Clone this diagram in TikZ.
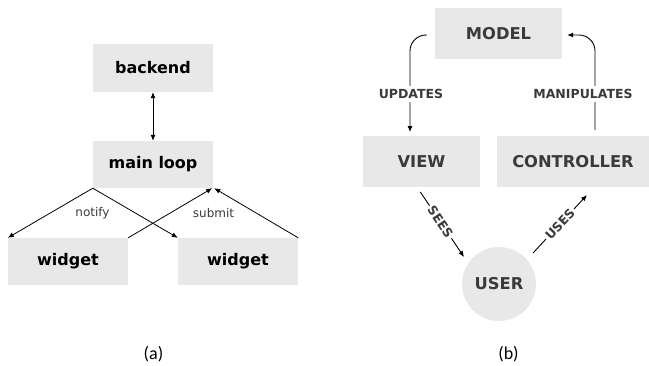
\documentclass[tikz,border=0pt]{standalone}
\usepackage{fontspec}
\setmainfont{DejaVu Sans}
\newfontfamily\capfont{Carlito}
\usetikzlibrary{arrows.meta,calc}
\definecolor{boxgray}{HTML}{E8E8E8}
\definecolor{txtgray}{HTML}{3A3A3A}
\tikzset{
  lbox/.style={fill=boxgray, inner sep=0pt, font=\fontsize{16}{18}\selectfont\bfseries, text=black},
  rbox/.style={fill=boxgray, inner sep=0pt, font=\fontsize{16.3}{18}\selectfont\bfseries, text=txtgray},
  larrow/.style={-{Latex[length=6pt,width=5pt]}, line width=0.8pt},
  rarrow/.style={-{Latex[length=6pt,width=5pt]}, line width=0.9pt},
  elabel/.style={font=\fontsize{12}{14}\selectfont, text=txtgray},
  rlabel/.style={font=\fontsize{12.5}{14}\selectfont\bfseries, text=txtgray, fill=white, inner sep=3pt},
  caption/.style={font=\capfont\fontsize{18}{20}\selectfont}
}
\begin{document}
\begin{tikzpicture}[x=1pt,y=-1pt]
\path[use as bounding box] (0,0) rectangle (649,365);
% ---------- panel (a)
\node[lbox, minimum width=120pt, minimum height=48pt] (backend) at (153,68) {backend};
\node[lbox, minimum width=120pt, minimum height=47pt] (main) at (153,164.5) {main loop};
\node[lbox, minimum width=120pt, minimum height=47pt] (wl) at (68,261.5) {widget};
\node[lbox, minimum width=120pt, minimum height=47pt] (wr) at (238,261.5) {widget};
\draw[{Latex[length=6pt,width=5pt]}-{Latex[length=6pt,width=5pt]}, line width=0.8pt] (backend.south) -- (main.north);
\draw[larrow] (main.south west) -- (wl.north west);
\draw[larrow] (main.south west) -- (wr.north west);
\draw[larrow] (wl.north east) -- ($(main.south east)+(-1,0)$);
\draw[larrow] (wr.north east) -- ($(main.south east)+(1,0)$);
\node[elabel] (notify) at (92.5,213) {notify};
\node[elabel] (submit) at (213.5,213) {submit};
\node[caption] (capa) at (153.5,354) {(a)};
% ---------- panel (b)
\node[rbox, minimum width=127pt, minimum height=51pt] (model) at (498.5,33.5) {MODEL};
\node[rbox, minimum width=117pt, minimum height=51pt] (view) at (421.5,161.5) {VIEW};
\node[rbox, minimum width=152pt, minimum height=51pt] (ctrl) at (573,161.5) {CONTROLLER};
\node[rbox, circle, minimum size=74pt] (user) at (499,284) {USER};
\coordinate (u1) at ($(model.west)+(-8,1.5)$);
\coordinate (u2) at (410,132);
\draw[rarrow, rounded corners=16pt] (u1) -| (u2);
\node[rlabel] (updates) at (411,94) {UPDATES};
\coordinate (m1) at (595,130);
\coordinate (m2) at ($(model.east)+(5,1.5)$);
\draw[rarrow, rounded corners=16pt] (m1) |- (m2);
\node[rlabel] (manip) at (583,94) {MANIPULATES};
\draw[rarrow, shorten <=6pt] (417,187) coordinate (s1) -- (464,257) coordinate (s2)
  node[rlabel, midway, sloped, inner sep=2pt] {SEES};
\draw[rarrow] (533,253) coordinate (t1) -- (587,195) coordinate (t2)
  node[rlabel, midway, sloped, inner sep=2pt] {USES};
\node[caption] (capb) at (508.5,354) {(b)};
\end{tikzpicture}
\end{document}
